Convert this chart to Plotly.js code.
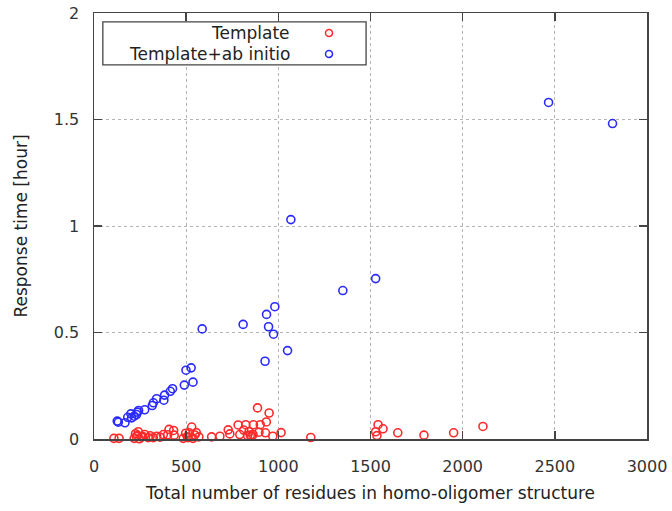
<!DOCTYPE html>
<html>
<head>
<meta charset="utf-8">
<script src="https://cdn.plot.ly/plotly-3.0.1.min.js"></script>
<style>html,body{margin:0;padding:0;background:#fff;}#chart{width:672px;height:511px;}</style>
</head>
<body>
<div id="chart"></div>
<script>
// Series names
const seriesNames = ["Template", "Template+ab initio"];

// Template (red)
const templateX = [108,136,218,225,230,237,240,246,258,265,276,294,305,322,340,358,376,400,407,432,435,484,497,506,511,517,530,537,547,555,569,
  638,683,728,737,782,791,812,823,833,841,848,855,863,865,887,895,902,930,935,950,970,1015,1176,
  1528,1535,1541,1568,1648,1790,1951,2110];
const templateY = [0.003,0.003,0.003,0.025,0.012,0.017,0.034,0.001,0.009,0.012,0.021,0.006,0.015,0.006,0.013,0.009,0.021,0.020,0.045,0.040,0.018,0.003,0.027,0.010,0.006,0.029,0.056,0.003,0.019,0.030,0.010,
  0.010,0.013,0.043,0.024,0.066,0.021,0.042,0.067,0.016,0.034,0.018,0.013,0.021,0.067,0.146,0.032,0.067,0.029,0.080,0.122,0.013,0.030,0.007,
  0.034,0.016,0.067,0.048,0.029,0.018,0.029,0.059];

// Template+ab initio (blue)
const abinitioX = [126,132,168,183,200,204,218,231,235,242,275,316,322,340,379,383,414,426,490,499,527,537,587,
  809,928,936,947,974,981,1050,1068,1350,1528,2466,2813];
const abinitioY = [0.084,0.079,0.076,0.102,0.118,0.099,0.107,0.115,0.126,0.134,0.137,0.157,0.170,0.189,0.182,0.206,0.224,0.236,0.253,0.323,0.334,0.267,0.517,
  0.538,0.365,0.585,0.527,0.492,0.621,0.415,1.030,0.697,0.753,1.580,1.481];

// Axis ticks
const xTicks = [0,500,1000,1500,2000,2500,3000];
const yTicks = [0,0.5,1,1.5,2];
const yTickText = ["0","0.5","1","1.5","2"];

const RED = "#ff2a2a";
const BLUE = "#2a2aff";
const FONT = "DejaVu Sans, sans-serif";

const traces = [
  {x: templateX, y: templateY, name: seriesNames[0], type: "scatter", mode: "markers",
   cliponaxis: false, showlegend: false,
   marker: {symbol: "circle-open", size: 8, color: RED, line: {color: RED, width: 1.6}}},
  {x: abinitioX, y: abinitioY, name: seriesNames[1], type: "scatter", mode: "markers",
   cliponaxis: false, showlegend: false,
   marker: {symbol: "circle-open", size: 8, color: BLUE, line: {color: BLUE, width: 1.6}}}
];

const axisCommon = {
  showline: true, linecolor: "#444", linewidth: 1.5, mirror: "allticks",
  ticks: "inside", ticklen: 8, tickwidth: 1.5, tickcolor: "#444",
  showgrid: true, gridcolor: "#b4b4b4", gridwidth: 1, griddash: "dot",
  zeroline: false, tickfont: {family: FONT, size: 16, color: "#333"}
};

// custom legend (symbol on the right, gnuplot style)
const legRows = [0.953, 0.904];
const legColors = [RED, BLUE];
const shapes = [
  {type: "rect", xref: "paper", yref: "paper", x0: 0.016, x1: 0.492, y0: 0.878, y1: 0.979,
   line: {color: "#444", width: 1.3}, fillcolor: "#fff", layer: "above"}
];
const annotations = [];
seriesNames.forEach((n, i) => {
  annotations.push({xref: "paper", yref: "paper", x: 0.358, y: legRows[i], xanchor: "right", yanchor: "middle",
    text: n, showarrow: false, font: {family: FONT, size: 17, color: "#222"}});
  shapes.push({type: "circle", xref: "paper", yref: "paper", xsizemode: "pixel", ysizemode: "pixel",
    xanchor: 0.425, yanchor: legRows[i], x0: -3.5, x1: 3.5, y0: -3.5, y1: 3.5,
    line: {color: legColors[i], width: 1.5}, layer: "above"});
});

const layout = {
  width: 672, height: 511,
  margin: {l: 94, r: 25, t: 13, b: 71.5},
  paper_bgcolor: "#fff", plot_bgcolor: "#fff",
  showlegend: false,
  xaxis: Object.assign({}, axisCommon, {
    range: [0, 3000], tickvals: xTicks, ticklabelstandoff: 12,
    title: {text: "Total number of residues in homo-oligomer structure", font: {family: FONT, size: 17, color: "#222"}, standoff: 12}
  }),
  yaxis: Object.assign({}, axisCommon, {
    range: [0, 2], tickvals: yTicks, ticktext: yTickText, ticklabelstandoff: 10,
    title: {text: "Response time [hour]", font: {family: FONT, size: 17, color: "#222"}, standoff: 22}
  }),
  shapes: shapes,
  annotations: annotations
};

Plotly.newPlot("chart", traces, layout, {displayModeBar: false, staticPlot: true});
</script>
</body>
</html>
